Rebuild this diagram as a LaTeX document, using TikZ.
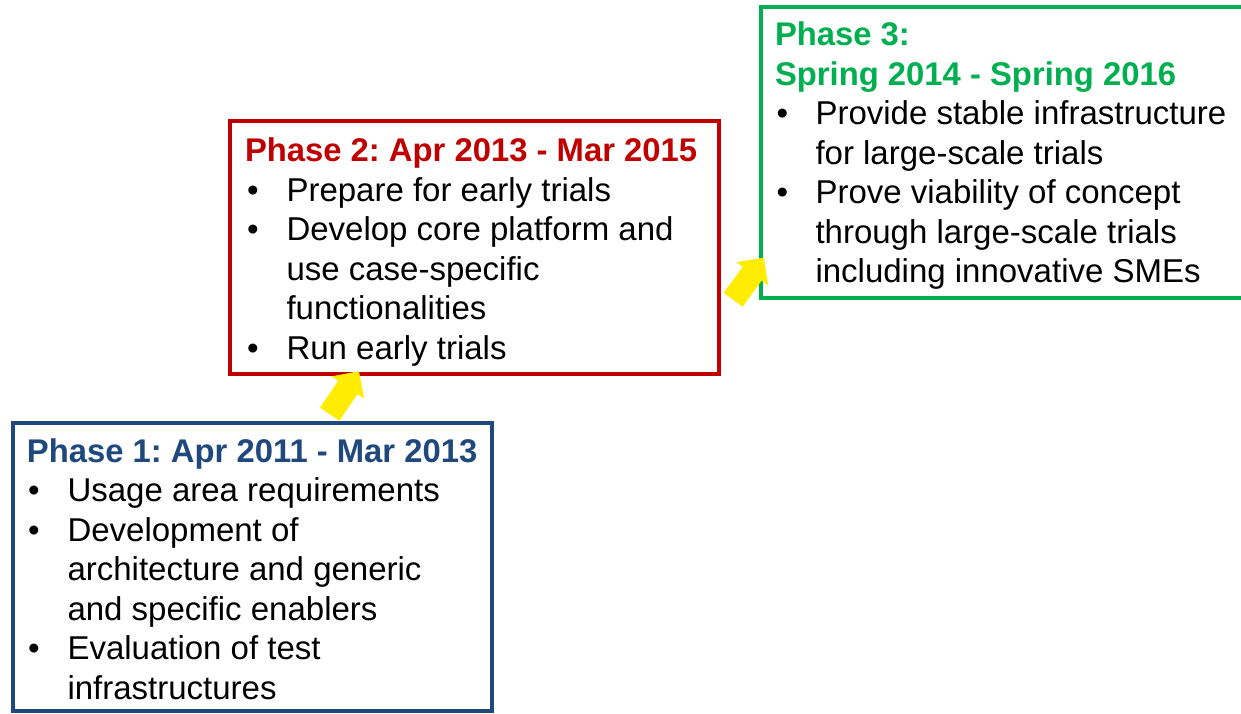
\documentclass[tikz,border=0pt]{standalone}
\usepackage{fontspec}
\setmainfont{Liberation Sans}
\usetikzlibrary{shapes.arrows}
\definecolor{pblue}{RGB}{31,73,125}
\definecolor{pred}{RGB}{192,0,0}
\definecolor{pgreen}{RGB}{0,176,80}
\definecolor{pyellow}{RGB}{255,236,0}
\newcommand\phfs{\fontsize{33}{39.5}\selectfont\frenchspacing}
\newcommand\phhfs{\fontsize{32.8}{39.5}\selectfont\frenchspacing\bfseries}
\begin{document}
\begin{tikzpicture}[x=1pt,y=-1pt,
  phbox/.style={draw, rectangle, anchor=north west, inner sep=0, outer sep=0},
  txt/.style={anchor=base west, inner sep=0, outer sep=0, font=\phfs},
  headtxt/.style={txt, font=\phhfs},
  yarrow/.style={single arrow, fill=pyellow, draw=none, minimum height=52pt, minimum width=39pt,
    inner sep=11.5pt, single arrow head extend=8pt, single arrow tip angle=90}
]
\useasboundingbox (0,0) rectangle (1241,713);
\clip (0,0) rectangle (1241,713);
\fill[white] (0,0) rectangle (1241,713);

% boxes
\node[phbox, draw=pblue, line width=4.5pt, minimum width=479pt, minimum height=288pt] (p1) at (13,423) {};
\node[phbox, draw=pred, line width=4pt, minimum width=489pt, minimum height=253pt] (p2) at (230,121) {};
\node[phbox, draw=pgreen, line width=4.5pt, minimum width=520pt, minimum height=291pt] (p3) at (761,7) {};

% arrows
\node[yarrow, rotate=55.7] (a1) at (341,397.5) {};
\node[yarrow, rotate=53.8] (a2) at (745,283.5) {};

% Phase 1
\node[headtxt, text=pblue] (h1) at (27,462) {Phase 1: Apr 2011 - Mar 2013};
\node[txt] (b1a) at (28,501.5) {•};
\node[txt] (t1a) at (67.5,501.5) {Usage area requirements};
\node[txt] (b1b) at (28,541) {•};
\node[txt] (t1b) at (67.5,541) {Development of};
\node[txt] (t1c) at (67.5,580.5) {architecture and generic};
\node[txt] (t1d) at (67.5,620) {and specific enablers};
\node[txt] (b1e) at (28,659.5) {•};
\node[txt] (t1e) at (67.5,659.5) {Evaluation of test};
\node[txt] (t1f) at (67.5,699) {infrastructures};

% Phase 2
\node[headtxt, text=pred] (h2) at (245,161.5) {Phase 2: Apr 2013 - Mar 2015};
\node[txt] (b2a) at (247,201) {•};
\node[txt] (t2a) at (286.5,201) {Prepare for early trials};
\node[txt] (b2b) at (247,240.5) {•};
\node[txt] (t2b) at (286.5,240.5) {Develop core platform and};
\node[txt] (t2c) at (286.5,280) {use case-specific};
\node[txt] (t2d) at (286.5,319.5) {functionalities};
\node[txt] (b2e) at (247,359) {•};
\node[txt] (t2e) at (286.5,359) {Run early trials};

% Phase 3
\node[headtxt, text=pgreen] (h3a) at (775,45.5) {Phase 3:};
\node[headtxt, text=pgreen] (h3b) at (775,85) {Spring 2014 - Spring 2016};
\node[txt] (b3a) at (776.5,124.5) {•};
\node[txt] (t3a) at (815.5,124.5) {Provide stable infrastructure};
\node[txt] (t3b) at (815.5,164) {for large-scale trials};
\node[txt] (b3c) at (776.5,203.5) {•};
\node[txt] (t3c) at (815.5,203.5) {Prove viability of concept};
\node[txt] (t3d) at (815.5,243) {through large-scale trials};
\node[txt] (t3e) at (815.5,282.5) {including innovative SMEs};
\end{tikzpicture}
\end{document}
